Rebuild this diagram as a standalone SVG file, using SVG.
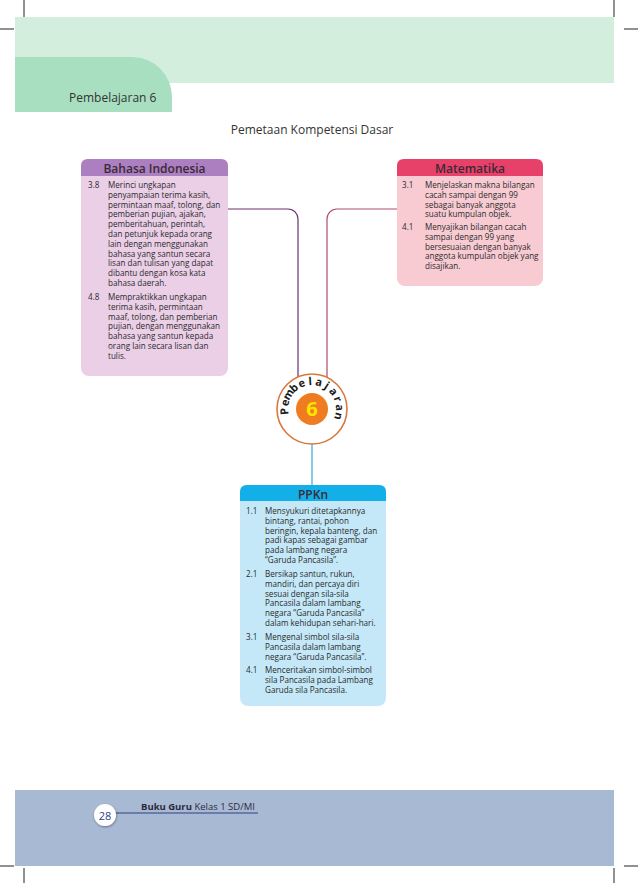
<svg xmlns="http://www.w3.org/2000/svg" width="638" height="883" viewBox="0 0 638 883">
<style>
.crop{stroke:#222;stroke-width:1;fill:none}
.t{font-family:"Open Sans","Liberation Sans",sans-serif;fill:#333}
.b{font-family:"Open Sans","Liberation Sans",sans-serif;font-size:8.1px;fill:#2b2b2b}
.h{font-family:"Open Sans","Liberation Sans",sans-serif;font-size:12px;font-weight:600;fill:#3a2a35;text-anchor:middle}
.conn{fill:none;stroke-width:1.2}
.lt{font-family:"Open Sans","Liberation Sans",sans-serif;font-size:11px;font-weight:700;fill:#1a1a1a;text-anchor:middle}
</style>
<defs>
<filter id="sh" x="-30%" y="-30%" width="160%" height="160%"><feDropShadow dx="0.5" dy="1" stdDeviation="1" flood-color="#000" flood-opacity="0.4"/></filter>
</defs>
<rect width="638" height="883" fill="#fff"/>
<!-- crop marks -->
<g id="crops">
<path class="crop" d="M24 0V17M0 29H14M614 0V17M624 29H638M0 866H14M24 868V883M624 866H638M614 868V883"/>
</g>
<!-- header -->
<g id="header">
<rect x="15" y="17" width="599" height="66" fill="#d3eedc"/>
<path d="M15 57H132A40 40 0 0 1 172 97V112H15Z" fill="#a8dfc1"/>
<text class="t" x="69" y="102" font-size="12">Pembelajaran 6</text>
</g>
<text class="t" x="312" y="134" font-size="12" text-anchor="middle">Pemetaan Kompetensi Dasar</text>
<!-- connectors -->
<g id="connectors">
<path class="conn" stroke="#6b2f70" d="M228 209H288A10 10 0 0 1 298 219V377"/>
<path class="conn" stroke="#b24a70" d="M397 209H337A10 10 0 0 0 327 219V377"/>
<path class="conn" stroke="#3aa6d6" d="M312 444V485"/>
</g>
<!-- Bahasa Indonesia -->
<g id="bahasa">
<rect x="81" y="159" width="147" height="217" rx="8" fill="#eacfe6"/>
<path d="M81 176V166Q81 159 88 159H221Q228 159 228 166V176Z" fill="#ab7fc0"/>
<text class="h" x="154.5" y="172.5">Bahasa Indonesia</text>
<text class="b" x="88" y="188">3.8</text>
<text class="b" x="108" y="188">Merinci ungkapan</text>
<text class="b" x="108" y="197.8">penyampaian terima kasih,</text>
<text class="b" x="108" y="207.6">permintaan maaf, tolong, dan</text>
<text class="b" x="108" y="217.4">pemberian pujian, ajakan,</text>
<text class="b" x="108" y="227.2">pemberitahuan, perintah,</text>
<text class="b" x="108" y="237">dan petunjuk kepada orang</text>
<text class="b" x="108" y="246.8">lain dengan menggunakan</text>
<text class="b" x="108" y="256.6">bahasa yang santun secara</text>
<text class="b" x="108" y="266.4">lisan dan tulisan yang dapat</text>
<text class="b" x="108" y="276.2">dibantu dengan kosa kata</text>
<text class="b" x="108" y="286">bahasa daerah.</text>
<text class="b" x="88" y="300">4.8</text>
<text class="b" x="108" y="300">Mempraktikkan ungkapan</text>
<text class="b" x="108" y="309.8">terima kasih, permintaan</text>
<text class="b" x="108" y="319.6">maaf, tolong, dan pemberian</text>
<text class="b" x="108" y="329.4">pujian, dengan menggunakan</text>
<text class="b" x="108" y="339.2">bahasa yang santun kepada</text>
<text class="b" x="108" y="349">orang lain secara lisan dan</text>
<text class="b" x="108" y="358.8">tulis.</text>
</g>
<!-- Matematika -->
<g id="matematika">
<rect x="397" y="159" width="146" height="127" rx="8" fill="#f8cbd3"/>
<path d="M397 176V166Q397 159 404 159H536Q543 159 543 166V176Z" fill="#e7416a"/>
<text class="h" x="470" y="172.5">Matematika</text>
<text class="b" x="402" y="188">3.1</text>
<text class="b" x="425" y="188">Menjelaskan makna bilangan</text>
<text class="b" x="425" y="197.8">cacah sampai dengan 99</text>
<text class="b" x="425" y="207.6">sebagai banyak anggota</text>
<text class="b" x="425" y="217.4">suatu kumpulan objek.</text>
<text class="b" x="402" y="230">4.1</text>
<text class="b" x="425" y="230">Menyajikan bilangan cacah</text>
<text class="b" x="425" y="239.8">sampai dengan 99 yang</text>
<text class="b" x="425" y="249.6">bersesuaian dengan banyak</text>
<text class="b" x="425" y="259.4">anggota kumpulan objek yang</text>
<text class="b" x="425" y="269.2">disajikan.</text>
</g>
<!-- center circle -->
<g id="pembelajaran">
<circle cx="312" cy="409" r="35" fill="#fff" stroke="#d9783e" stroke-width="1.6"/>
<circle cx="312" cy="409" r="16" fill="#f07c21"/>
<text x="312" y="416" font-family="'Open Sans','Liberation Sans',sans-serif" font-size="20" font-weight="700" fill="#ffe600" text-anchor="middle">6</text>
<text class="lt" transform="translate(288.09 411.09) rotate(-95)">P</text>
<text class="lt" transform="translate(288.63 403.52) rotate(-76.8)">e</text>
<text class="lt" transform="translate(291.52 396.5) rotate(-58.6)">m</text>
<text class="lt" transform="translate(296.45 390.72) rotate(-40.4)">b</text>
<text class="lt" transform="translate(302.93 386.78) rotate(-22.2)">e</text>
<text class="lt" transform="translate(310.33 385.06) rotate(-4)">l</text>
<text class="lt" transform="translate(317.89 385.73) rotate(14.2)">a</text>
<text class="lt" transform="translate(324.86 388.74) rotate(32.4)">j</text>
<text class="lt" transform="translate(330.55 393.77) rotate(50.6)">a</text>
<text class="lt" transform="translate(334.38 400.32) rotate(68.8)">r</text>
<text class="lt" transform="translate(335.97 407.74) rotate(87)">a</text>
<text class="lt" transform="translate(335.16 415.29) rotate(105.2)">n</text>
</g>
<!-- PPKn -->
<g id="ppkn">
<rect x="240" y="485" width="146" height="221" rx="8" fill="#c4e8f7"/>
<path d="M240 501V492Q240 485 247 485H379Q386 485 386 492V501Z" fill="#12afe8"/>
<text class="h" x="313" y="498.5">PPKn</text>
<text class="b" x="246" y="514">1.1</text>
<text class="b" x="265" y="514">Mensyukuri ditetapkannya</text>
<text class="b" x="265" y="523.8">bintang, rantai, pohon</text>
<text class="b" x="265" y="533.6">beringin, kepala banteng, dan</text>
<text class="b" x="265" y="543.4">padi kapas sebagai gambar</text>
<text class="b" x="265" y="553.2">pada lambang negara</text>
<text class="b" x="265" y="563">“Garuda Pancasila”.</text>
<text class="b" x="246" y="577">2.1</text>
<text class="b" x="265" y="577">Bersikap santun, rukun,</text>
<text class="b" x="265" y="586.8">mandiri, dan percaya diri</text>
<text class="b" x="265" y="596.6">sesuai dengan sila-sila</text>
<text class="b" x="265" y="606.4">Pancasila dalam lambang</text>
<text class="b" x="265" y="616.2">negara “Garuda Pancasila”</text>
<text class="b" x="265" y="626">dalam kehidupan sehari-hari.</text>
<text class="b" x="246" y="640">3.1</text>
<text class="b" x="265" y="640">Mengenal simbol sila-sila</text>
<text class="b" x="265" y="649.8">Pancasila dalam lambang</text>
<text class="b" x="265" y="659.6">negara “Garuda Pancasila”.</text>
<text class="b" x="246" y="673">4.1</text>
<text class="b" x="265" y="673">Menceritakan simbol-simbol</text>
<text class="b" x="265" y="682.8">sila Pancasila pada Lambang</text>
<text class="b" x="265" y="692.6">Garuda sila Pancasila.</text>
</g>
<!-- footer -->
<g id="footer">
<rect x="15" y="790" width="599" height="76" fill="#a8b9d3"/>
<line x1="112" y1="813" x2="258" y2="813" stroke="#2e3f86" stroke-width="1"/>
<circle cx="105" cy="815" r="11" fill="#fff" filter="url(#sh)"/>
<text x="105" y="819.5" font-family="'Open Sans','Liberation Sans',sans-serif" font-size="11" fill="#2e3f86" text-anchor="middle">28</text>
<text x="141" y="810" font-family="'Open Sans','Liberation Sans',sans-serif" font-size="9.5" fill="#2b2b3b"><tspan font-weight="700">Buku Guru</tspan> Kelas 1 SD/MI</text>
</g>
</svg>
